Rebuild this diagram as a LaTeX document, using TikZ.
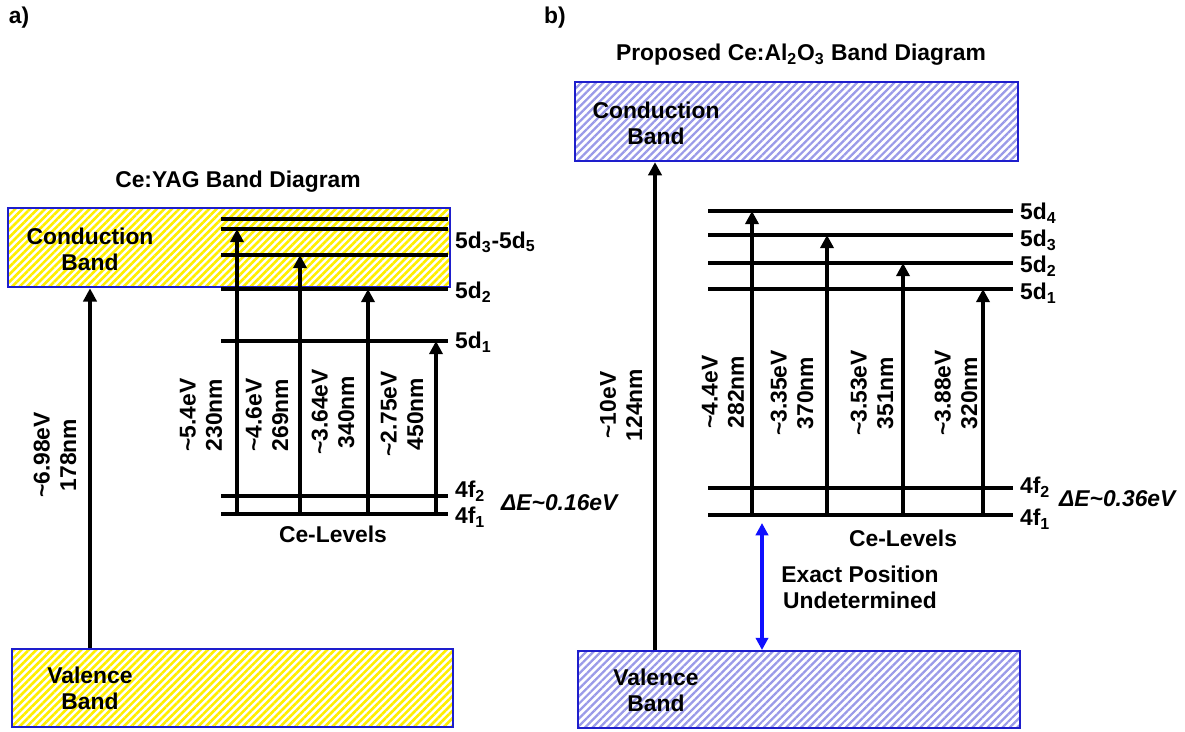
\documentclass[tikz,border=0pt]{standalone}
\usepackage{fontspec}
\setmainfont{Liberation Sans}
\usetikzlibrary{arrows.meta,fit,patterns.meta}
\definecolor{bandedge}{HTML}{1E1ECC}
\definecolor{hatchY}{HTML}{FFEE00}
\definecolor{hatchB}{HTML}{9A9AE8}
\definecolor{gapblue}{HTML}{1010FF}

\begin{document}
\begin{tikzpicture}[x=0.02cm,y=-0.02cm,
  every node/.style={font=\bfseries\fontsize{13}{15}\selectfont},
  bandA/.style={draw=bandedge,line width=1.1pt,inner sep=0pt,
    pattern={Lines[angle=45,distance=3pt,line width=1.5pt]},pattern color=hatchY},
  bandB/.style={draw=bandedge,line width=1.1pt,inner sep=0pt,
    pattern={Lines[angle=45,distance=3pt,line width=1.3pt]},pattern color=hatchB},
  bandtext/.style={align=center,font=\bfseries\fontsize{13}{14.7}\selectfont},
  level/.style={line width=2.7pt},
  excite/.style={-{Triangle[length=7.5pt,width=7.5pt]},line width=2.2pt},
  unsure/.style={{Triangle[length=7pt,width=7pt]}-{Triangle[length=7pt,width=7pt]},
    draw=gapblue,line width=1.8pt},
  tag/.style={anchor=west,inner sep=1pt},
  gap/.style={anchor=west,inner sep=1pt,font=\bfseries\itshape\fontsize{13}{15}\selectfont},
  trans/.style={rotate=90,align=center,inner sep=1pt}
]
  \useasboundingbox (0,0) rectangle (1185,731);

  % a) Ce:YAG
  \node (tagA) at (19,18) {a)};
  \node (titleA) at (238,182) {Ce:YAG Band Diagram};
  \node[bandA,fit={(8,208)(450,287)}] (cbA) {};
  \node[bandA,fit={(12,649)(453,727)}] (vbA) {};
  \node[bandtext] (cbAtxt) at (90,249) {Conduction\\Band};
  \node[bandtext] (vbAtxt) at (90,688) {Valence\\Band};

  \foreach \name/\y in {a5d5/219,a5d4/229,a5d3/255,a5d2/289,a5d1/341,a4f2/496,a4f1/514}
    \draw[level] (221,\y) -- (448,\y) coordinate (\name);

  \node[tag] (l5dA) at (453,242) {5d\textsubscript{3}-5d\textsubscript{5}};
  \node[tag] (l5d2A) at (453,292) {5d\textsubscript{2}};
  \node[tag] (l5d1A) at (453,342) {5d\textsubscript{1}};
  \node[tag] (l4f2A) at (453,491) {4f\textsubscript{2}};
  \node[tag] (l4f1A) at (453,517) {4f\textsubscript{1}};
  \node[gap] (dEA) at (499,503) {ΔE\textasciitilde0.16eV};
  \node (ceA) at (333,534) {Ce-Levels};

  \foreach \name/\x in {exA1/237,exA2/300,exA3/368,exA4/436}
    \coordinate (\name) at (\x,514);
  \draw[excite] (exA1) -- (exA1 |- a5d4);
  \draw[excite] (exA2) -- (exA2 |- a5d3);
  \draw[excite] (exA3) -- (exA3 |- a5d2);
  \draw[excite] (exA4) -- (exA4 |- a5d1);
  \node[trans] (tA1) at (201,415) {\textasciitilde5.4eV\\230nm};
  \node[trans] (tA2) at (267,415) {\textasciitilde4.6eV\\269nm};
  \node[trans] (tA3) at (333,412) {\textasciitilde3.64eV\\340nm};
  \node[trans] (tA4) at (402,414) {\textasciitilde2.75eV\\450nm};

  \coordinate (gapA) at (90,0);
  \draw[excite] (gapA |- vbA.north) -- (gapA |- cbA.south);
  \node[trans] (tgA) at (55,455) {\textasciitilde6.98eV\\178nm};

  % b) Ce:Al2O3
  \node (tagB) at (555,18) {b)};
  \node (titleB) at (801,55) {Proposed Ce:Al\textsubscript{2}O\textsubscript{3} Band Diagram};
  \node[bandB,fit={(575,82)(1018,161)}] (cbB) {};
  \node[bandB,fit={(578,651)(1020,728)}] (vbB) {};
  \node[bandtext] (cbBtxt) at (656,123) {Conduction\\Band};
  \node[bandtext] (vbBtxt) at (656,690) {Valence\\Band};

  \foreach \name/\y in {b5d4/211,b5d3/235,b5d2/263,b5d1/289,b4f2/488,b4f1/515}
    \draw[level] (708,\y) -- (1013,\y) coordinate (\name);

  \node[tag] (l5d4B) at (1018,213) {5d\textsubscript{4}};
  \node[tag] (l5d3B) at (1018,240) {5d\textsubscript{3}};
  \node[tag] (l5d2B) at (1018,266) {5d\textsubscript{2}};
  \node[tag] (l5d1B) at (1018,293) {5d\textsubscript{1}};
  \node[tag] (l4f2B) at (1018,487) {4f\textsubscript{2}};
  \node[tag] (l4f1B) at (1018,519) {4f\textsubscript{1}};
  \node[gap] (dEB) at (1057,499) {ΔE\textasciitilde0.36eV};
  \node (ceB) at (903,538) {Ce-Levels};

  \foreach \name/\x in {exB1/752,exB2/827,exB3/903,exB4/983}
    \coordinate (\name) at (\x,515);
  \draw[excite] (exB1) -- (exB1 |- b5d4);
  \draw[excite] (exB2) -- (exB2 |- b5d3);
  \draw[excite] (exB3) -- (exB3 |- b5d2);
  \draw[excite] (exB4) -- (exB4 |- b5d1);
  \node[trans] (tB1) at (723,392) {\textasciitilde4.4eV\\282nm};
  \node[trans] (tB2) at (792,393) {\textasciitilde3.35eV\\370nm};
  \node[trans] (tB3) at (872,393) {\textasciitilde3.53eV\\351nm};
  \node[trans] (tB4) at (956,393) {\textasciitilde3.88eV\\320nm};

  \coordinate (gapB) at (655,0);
  \draw[excite] (gapB |- vbB.north) -- (gapB |- cbB.south);
  \node[trans] (tgB) at (621,405) {\textasciitilde10eV\\124nm};

  \coordinate (unsureTop) at (762,523);
  \draw[unsure] (unsureTop) -- (unsureTop |- vbB.north);
  \node[align=center] (unsureTxt) at (860,587) {Exact Position\\Undetermined};
\end{tikzpicture}
\end{document}
